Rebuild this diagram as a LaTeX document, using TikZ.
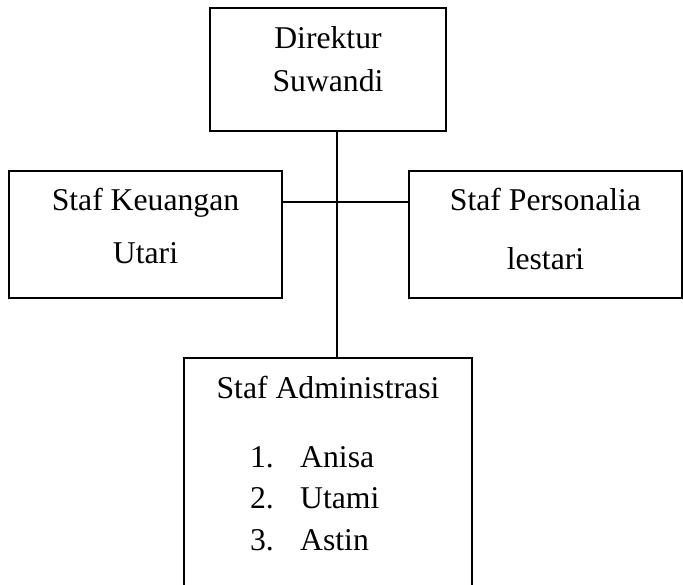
\documentclass[tikz,border=0pt]{standalone}
\usepackage{fontspec}
\setmainfont{Liberation Serif}
\begin{document}
\begin{tikzpicture}[x=1pt,y=-1pt,
  box/.style={draw, line width=1.4pt, rectangle, inner sep=0pt, outer sep=0pt},
  lbl/.style={font=\fontsize{31.7}{38}\selectfont, anchor=base, inner sep=0pt},
  lblw/.style={lbl, anchor=base west},
  lble/.style={lbl, anchor=base east},
  link/.style={line width=1.4pt}]
\clip (0,0) rectangle (683,584);
% boxes
\node[box, minimum width=236pt, minimum height=123pt] (dir) at (328,69.5) {};
\node[box, minimum width=273pt, minimum height=127pt] (keu) at (145.5,234.5) {};
\node[box, minimum width=273pt, minimum height=127pt] (per) at (545.5,234.5) {};
\node[box, minimum width=288pt, minimum height=262pt] (adm) at (328,489) {};
% texts
\node[lbl] (dirA) at (328,48) {Direktur};
\node[lbl] (dirB) at (328,91) {Suwandi};
\node[lbl] (keuA) at (145.5,210) {Staf Keuangan};
\node[lbl] (keuB) at (145.5,263) {Utari};
\node[lbl] (perA) at (545.5,210) {Staf Personalia};
\node[lbl] (perB) at (545.5,269) {lestari};
\node[lbl] (admA) at (328,398) {Staf Administrasi};
\node[lble] (n1) at (274,467) {1.};
\node[lblw] (m1) at (300,467) {Anisa};
\node[lble] (n2) at (274,508) {2.};
\node[lblw] (m2) at (300,508) {Utami};
\node[lble] (n3) at (274,550) {3.};
\node[lblw] (m3) at (300,550) {Astin};
% connectors
\coordinate (j) at (337,202);
\draw[link] (j |- dir.south) -- (j |- adm.north);
\draw[link] (keu.east |- j) -- (per.west |- j);
\end{tikzpicture}
\end{document}
